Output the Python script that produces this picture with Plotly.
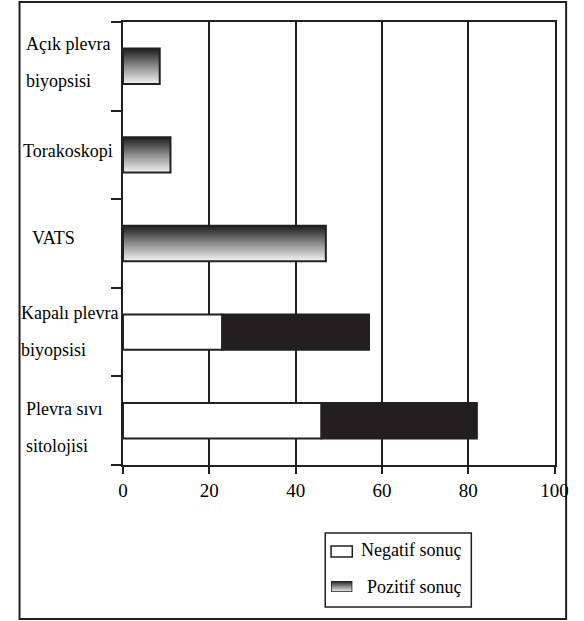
import plotly.graph_objects as go

# ---- data ----
categories = ["Açık plevra biyopsisi", "Torakoskopi", "VATS",
              "Kapalı plevra biyopsisi", "Plevra sıvı sitolojisi"]
label_lines = [["Açık plevra", "biyopsisi"], ["Torakoskopi"], ["VATS"],
               ["Kapalı plevra", "biyopsisi"], ["Plevra sıvı", "sitolojisi"]]
negatif = [None, None, None, 23, 46]
pozitif = [8.5, 11, 47, 34, 36]
x_ticks = [0, 20, 40, 60, 80, 100]
legend_names = ["Negatif sonuç", "Pozitif sonuç"]

# ---- layout geometry (pixels) ----
W, H = 584, 621
L, R, T, B = 122, 568, 22, 465
n = len(categories)
ypos = [n - 0.5 - i for i in range(n)]  # first category at top
bw = 0.4
INK = "#231f20"
FONT = "Times New Roman, Liberation Serif, serif"
GRAD = [[0, "#f4f4f4"], [0.5, "#8c8c8c"], [1, "#1c1c1c"]]

def xp(px):
    return px / W

def yp(py):
    return 1 - py / H

fig = go.Figure()

# negative (white) segments
neg_y = [y for y, v in zip(ypos, negatif) if v is not None]
neg_x = [v for v in negatif if v is not None]
fig.add_trace(go.Bar(
    x=neg_x, y=neg_y, orientation="h", width=bw, base=0,
    marker=dict(color="white", line=dict(color=INK, width=2)),
    name=legend_names[0], showlegend=False))

# positive segments following the negative ones (black)
pos_x = [p for p, v in zip(pozitif, negatif) if v is not None]
pos_base = [v for v in negatif if v is not None]
fig.add_trace(go.Bar(
    x=pos_x, y=neg_y, base=pos_base, orientation="h", width=bw,
    marker=dict(color=INK, line=dict(color=INK, width=2)),
    name=legend_names[1], showlegend=False))

# positive-only bars with vertical gradient
for y, p, v in zip(ypos, pozitif, negatif):
    if v is not None:
        continue
    fig.add_trace(go.Scatter(
        x=[0, p, p, 0, 0],
        y=[y - bw / 2, y - bw / 2, y + bw / 2, y + bw / 2, y - bw / 2],
        mode="lines", fill="toself",
        fillgradient=dict(type="vertical", colorscale=GRAD),
        line=dict(color=INK, width=2),
        name=legend_names[1], showlegend=False, hoverinfo="skip"))

# legend gradient swatch (separate small axes)
fig.add_trace(go.Scatter(
    x=[0, 1, 1, 0, 0], y=[0, 0, 1, 1, 0], mode="lines", fill="toself",
    fillgradient=dict(type="vertical", colorscale=GRAD),
    line=dict(color=INK, width=1.5), xaxis="x2", yaxis="y2",
    showlegend=False, hoverinfo="skip"))

# category labels (multi-line, left of the axis)
label_px = [
    [(20, 44), (20, 81)],
    [(17, 151)],
    [(26, 238)],
    [(14, 313), (14, 350)],
    [(20, 409), (20, 446)],
]
for lines, pos in zip(label_lines, label_px):
    for text, (px, py) in zip(lines, pos):
        fig.add_annotation(text=text, xref="paper", yref="paper",
                           x=xp(px), y=yp(py), xanchor="left", yanchor="middle",
                           showarrow=False, font=dict(family=FONT, size=18, color="black"))

# outer frame
fig.add_shape(type="rect", xref="paper", yref="paper",
              x0=xp(15), x1=xp(580), y0=yp(619), y1=yp(2),
              line=dict(color=INK, width=2), layer="below")

# manual legend
fig.add_shape(type="rect", xref="paper", yref="paper",
              x0=xp(331), x1=xp(482), y0=yp(607), y1=yp(533),
              line=dict(color=INK, width=1.5), fillcolor="white", layer="below")
fig.add_shape(type="rect", xref="paper", yref="paper",
              x0=xp(337), x1=xp(359), y0=yp(557), y1=yp(546),
              line=dict(color=INK, width=1.5), fillcolor="white")
for name, (px, py) in zip(legend_names, [(366, 550), (372, 587)]):
    fig.add_annotation(text=name, xref="paper", yref="paper",
                       x=xp(px), y=yp(py), xanchor="left", yanchor="middle",
                       showarrow=False, font=dict(family=FONT, size=18, color="black"))

fig.update_layout(
    width=W, height=H,
    margin=dict(l=0, r=0, t=0, b=0, pad=0),
    paper_bgcolor="white", plot_bgcolor="white",
    font=dict(family=FONT, color="black"),
    showlegend=False,
    barmode="overlay",
    xaxis=dict(domain=[xp(L), xp(R)], range=[0, 100], tickvals=x_ticks,
               showgrid=True, gridcolor=INK, gridwidth=2,
               showline=True, mirror=True, linecolor=INK, linewidth=2,
               ticks="outside", ticklen=7, tickwidth=2, tickcolor=INK,
               tickfont=dict(family=FONT, size=19, color="black"), zeroline=False),
    yaxis=dict(domain=[yp(B), yp(T)], range=[0, n], tickvals=list(range(n + 1)),
               showticklabels=False, showgrid=False, showline=True, mirror=True,
               linecolor=INK, linewidth=2, ticks="outside", ticklen=10, tickwidth=2,
               tickcolor=INK, zeroline=False),
    xaxis2=dict(domain=[xp(337), xp(359)], range=[0, 1], visible=False, anchor="y2"),
    yaxis2=dict(domain=[yp(592), yp(581)], range=[0, 1], visible=False, anchor="x2"),
)

fig.write_html("out.html", config={"displayModeBar": False},
               post_script="document.body.style.margin='0';document.body.style.overflow='hidden';")
